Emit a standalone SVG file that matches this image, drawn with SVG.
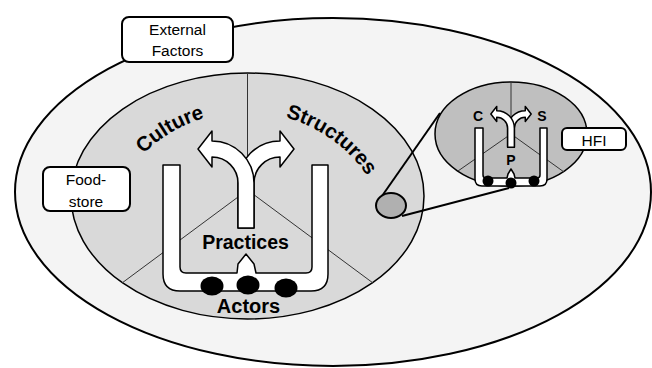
<svg xmlns="http://www.w3.org/2000/svg" width="652" height="368" viewBox="0 0 652 368">
<style>
text{font-family:'Liberation Sans',Arial,sans-serif;fill:#000}
.b{font-weight:bold}
.box{fill:#fff;stroke:#000;stroke-width:2}
.w{fill:#fff;stroke:#000;stroke-width:1.5;stroke-linejoin:round;vector-effect:non-scaling-stroke}
.sec{stroke:#333;stroke-width:1;fill:none}
.dot{fill:#000}
.lbl{font-size:15.5px;text-anchor:middle}
.con{stroke:#000;stroke-width:2;fill:none}
</style>
<defs>
<path id="arc" d="M99,259 A147,147 0 0 1 393,259"/>
<g id="fork">
<path class="w" d="M254,228 L254,183 A26,26 0 0 1 280,157 L280,167 L294,149 L280,131 L280,141 A42,42 0 0 0 238,183 L238,228 Z"/>
<path class="w" d="M238,228 L238,183 A26,26 0 0 0 212,157 L212,167 L198,149 L212,131 L212,141 A42,42 0 0 1 254,183 L254,228 Z"/>
</g>
</defs>

<g id="environment">
<ellipse cx="333" cy="192" rx="318" ry="174" fill="#f4f4f4" stroke="#000" stroke-width="2"/>
</g>

<g id="main-model">
<ellipse cx="247.5" cy="196" rx="176.5" ry="123" fill="#d9d9d9" stroke="#000" stroke-width="1.5"/>
<path class="sec" d="M247.5,73 L247.5,190 M247.5,190 L122,283 M247.5,190 L373,283"/>
<path class="w" d="M163,165 L163,274 Q163,291 180,291 L311,291 Q328,291 328,274 L328,165 L312,165 L312,267 Q312,273 306,273 L256,273 L254,264 L246,254 L238,264 L237,273 L186,273 Q180,273 180,267 L180,165 Z"/>
<ellipse class="dot" cx="212" cy="286" rx="11.5" ry="9.5"/>
<ellipse class="dot" cx="248" cy="285" rx="11.5" ry="9.5"/>
<ellipse class="dot" cx="286" cy="288" rx="11.5" ry="9.5"/>
<use href="#fork"/>
<text class="b" font-size="20.5"><textPath href="#arc" startOffset="153" text-anchor="middle">Culture</textPath></text>
<text class="b" font-size="20.5"><textPath href="#arc" startOffset="322" text-anchor="middle">Structures</textPath></text>
<text class="b" x="245.5" y="249" font-size="19.5" text-anchor="middle">Practices</text>
<text class="b" x="248.5" y="313" font-size="20" text-anchor="middle">Actors</text>
</g>

<g id="connectors">
<path class="con" d="M382,196 L440,113"/>
<path class="con" d="M402,216 L509,188"/>
</g>

<g id="zoom-spot">
<ellipse cx="391" cy="205.5" rx="15" ry="12.5" fill="#b0b0b0" stroke="#000" stroke-width="2"/>
</g>

<g id="hfi-model">
<ellipse cx="511" cy="134" rx="76" ry="52" fill="#bfbfbf" stroke="#000" stroke-width="1.5"/>
<path class="sec" d="M511,82 L511,134 M511,134 L458,171 M511,134 L564,172"/>
<path class="w" d="M475,128 L475,179 Q475,186 482,186 L540,186 Q547,186 547,179 L547,128 L540,128 L540,175 Q540,178 537,178 L515,178 L514,174 L511,169 L508,174 L507,178 L486,178 Q483,178 483,175 L483,128 Z"/>
<circle class="dot" cx="488" cy="181" r="5.5"/>
<circle class="dot" cx="511" cy="183" r="5.5"/>
<circle class="dot" cx="534" cy="181" r="5.5"/>
<use href="#fork" transform="translate(511,114) scale(0.42) translate(-246,-149)"/>
<text class="b" x="478" y="121" font-size="14" text-anchor="middle">C</text>
<text class="b" x="542" y="121" font-size="14" text-anchor="middle">S</text>
<text class="b" x="511" y="165" font-size="14" text-anchor="middle">P</text>
</g>

<g id="external-factors">
<rect class="box" x="122" y="17" width="111" height="45" rx="7"/>
<text class="lbl" x="177.5" y="35">External</text>
<text class="lbl" x="177.5" y="56">Factors</text>
</g>

<g id="food-store">
<rect class="box" x="43" y="167" width="87" height="44" rx="7"/>
<text class="lbl" x="86" y="185">Food-</text>
<text class="lbl" x="86" y="207">store</text>
</g>

<g id="hfi">
<rect class="box" x="562" y="128" width="64" height="22" rx="5"/>
<text class="lbl" x="594" y="145.5" font-size="16">HFI</text>
</g>
</svg>
